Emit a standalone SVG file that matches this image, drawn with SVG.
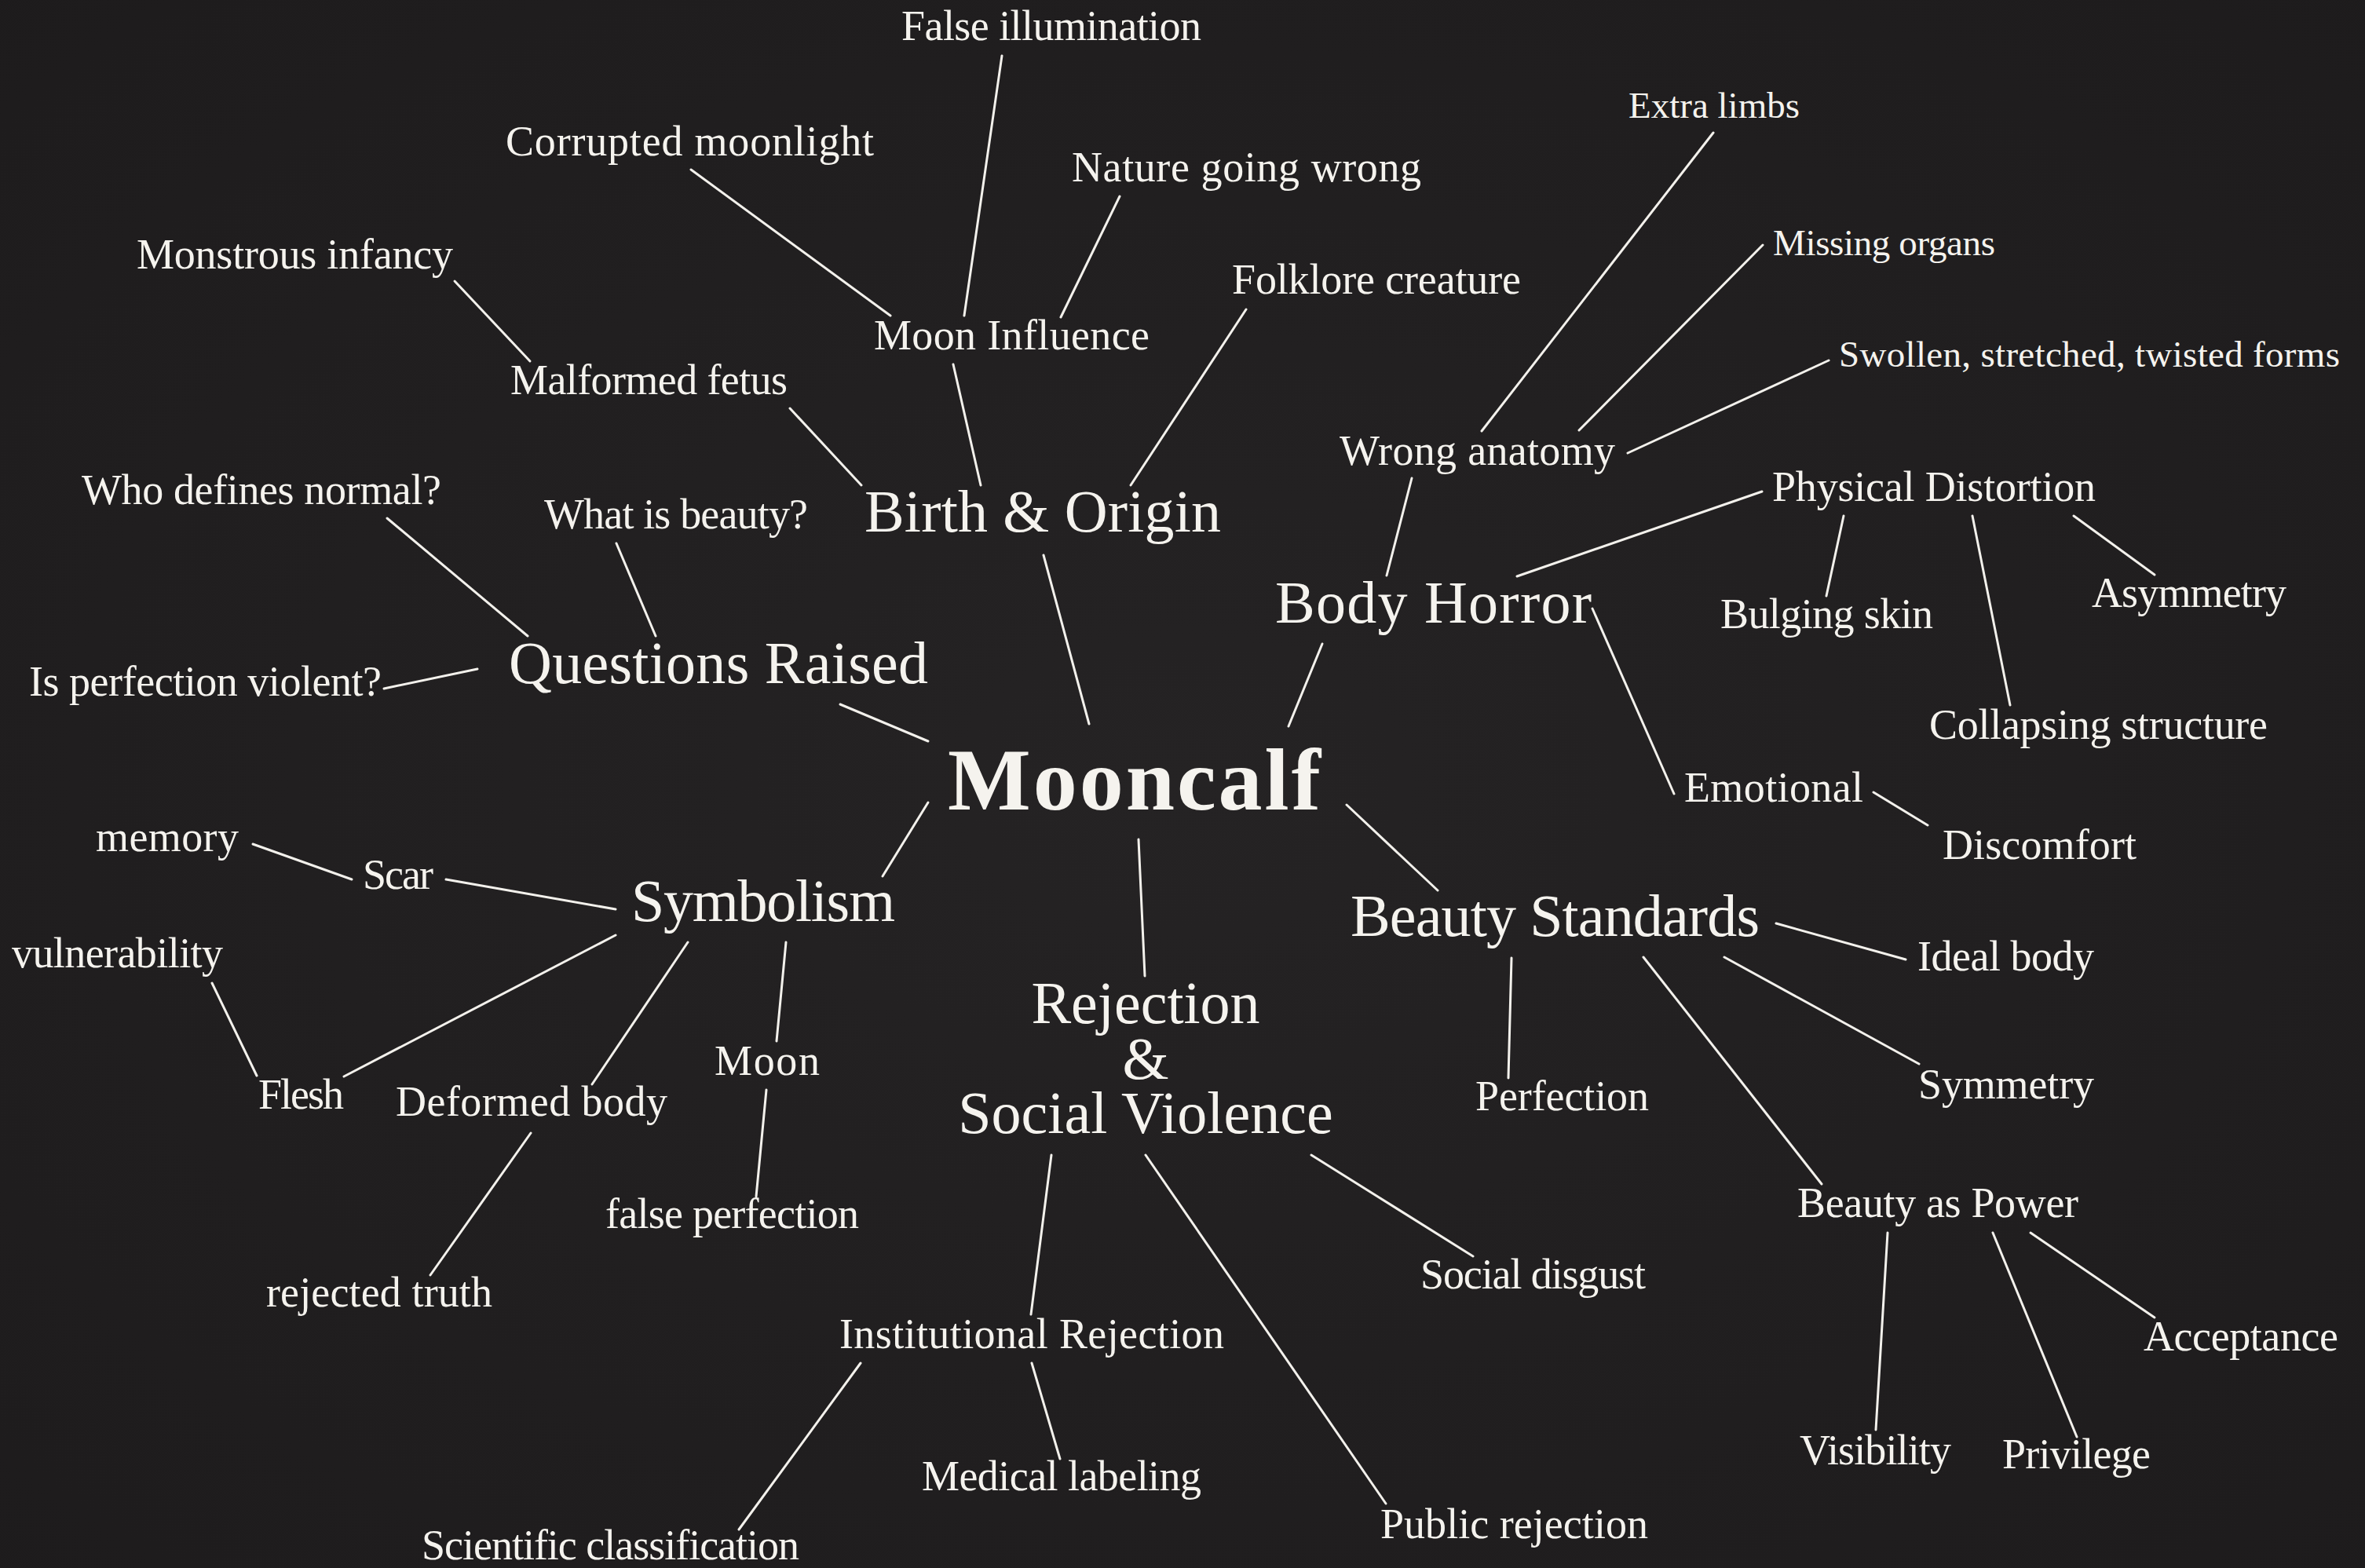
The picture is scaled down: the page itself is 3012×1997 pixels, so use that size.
<svg xmlns="http://www.w3.org/2000/svg" width="3012" height="1997" viewBox="0 0 3012 1997">
<defs>
<style>
text{font-family:"Liberation Serif","Times New Roman",serif;fill:#f5f3ee;}
.t{font-size:112px;font-weight:bold;}
.m{font-size:76px;}
.s{font-size:54px;}
.x{font-size:47px;}
#connectors line{stroke:#f3f1ec;stroke-width:3;stroke-linecap:round;}
</style>
<radialGradient id="bg" cx="50%" cy="50%" r="75%">
<stop offset="0" stop-color="#252324"/>
<stop offset="1" stop-color="#1d1b1c"/>
</radialGradient>
</defs>
<rect width="3012" height="1997" fill="url(#bg)"/>
<g id="connectors">
<line x1="1276" y1="71" x2="1228" y2="402"/>
<line x1="880" y1="216" x2="1134" y2="402"/>
<line x1="1426" y1="250" x2="1351" y2="404"/>
<line x1="1214" y1="464" x2="1249" y2="618"/>
<line x1="579" y1="358" x2="675" y2="460"/>
<line x1="1006" y1="520" x2="1097" y2="618"/>
<line x1="1587" y1="394" x2="1440" y2="618"/>
<line x1="1329" y1="707" x2="1387" y2="922"/>
<line x1="2182" y1="169" x2="1887" y2="549"/>
<line x1="2245" y1="312" x2="2011" y2="548"/>
<line x1="2329" y1="459" x2="2073" y2="577"/>
<line x1="1798" y1="609" x2="1766" y2="733"/>
<line x1="2244" y1="626" x2="1932" y2="734"/>
<line x1="2348" y1="657" x2="2326" y2="759"/>
<line x1="2512" y1="657" x2="2560" y2="898"/>
<line x1="2641" y1="657" x2="2744" y2="732"/>
<line x1="2028" y1="775" x2="2132" y2="1011"/>
<line x1="2386" y1="1009" x2="2455" y2="1051"/>
<line x1="1684" y1="820" x2="1641" y2="925"/>
<line x1="493" y1="660" x2="672" y2="810"/>
<line x1="785" y1="692" x2="835" y2="810"/>
<line x1="489" y1="877" x2="608" y2="852"/>
<line x1="1070" y1="897" x2="1182" y2="944"/>
<line x1="1182" y1="1022" x2="1124" y2="1116"/>
<line x1="322" y1="1075" x2="448" y2="1120"/>
<line x1="568" y1="1120" x2="784" y2="1158"/>
<line x1="784" y1="1191" x2="438" y2="1371"/>
<line x1="270" y1="1252" x2="327" y2="1370"/>
<line x1="876" y1="1200" x2="754" y2="1381"/>
<line x1="1001" y1="1200" x2="989" y2="1326"/>
<line x1="976" y1="1388" x2="963" y2="1524"/>
<line x1="676" y1="1443" x2="548" y2="1624"/>
<line x1="1450" y1="1069" x2="1458" y2="1243"/>
<line x1="1339" y1="1471" x2="1313" y2="1674"/>
<line x1="1459" y1="1471" x2="1765" y2="1915"/>
<line x1="1670" y1="1471" x2="1876" y2="1600"/>
<line x1="1314" y1="1736" x2="1350" y2="1858"/>
<line x1="1096" y1="1736" x2="941" y2="1948"/>
<line x1="1715" y1="1025" x2="1831" y2="1134"/>
<line x1="2262" y1="1176" x2="2427" y2="1222"/>
<line x1="1925" y1="1220" x2="1921" y2="1373"/>
<line x1="2196" y1="1219" x2="2444" y2="1355"/>
<line x1="2093" y1="1219" x2="2320" y2="1508"/>
<line x1="2404" y1="1570" x2="2389" y2="1821"/>
<line x1="2538" y1="1570" x2="2645" y2="1830"/>
<line x1="2586" y1="1570" x2="2744" y2="1678"/>
</g>
<g id="mooncalf"><text class="t" x="1207" y="1031" textLength="475">Mooncalf</text></g>
<g id="birth-origin"><text class="m" x="1101" y="677" textLength="454">Birth &amp; Origin</text></g>
<g id="body-horror"><text class="m" x="1624" y="793" textLength="403">Body Horror</text></g>
<g id="questions-raised"><text class="m" x="648" y="870" textLength="534">Questions Raised</text></g>
<g id="symbolism"><text class="m" x="804" y="1173" textLength="336">Symbolism</text></g>
<g id="beauty-standards"><text class="m" x="1720" y="1192" textLength="521">Beauty Standards</text></g>
<g id="rejection-social-violence">
<text class="m" text-anchor="middle"><tspan x="1459" y="1303">Rejection</tspan><tspan x="1459" y="1374">&amp;</tspan><tspan x="1459" y="1443">Social Violence</tspan></text>
</g>
<g id="false-illumination"><text class="s" x="1148" y="51" textLength="382">False illumination</text></g>
<g id="corrupted-moonlight"><text class="s" x="644" y="198" textLength="469">Corrupted moonlight</text></g>
<g id="nature-going-wrong"><text class="s" x="1365" y="231" textLength="445">Nature going wrong</text></g>
<g id="monstrous-infancy"><text class="s" x="174" y="342" textLength="403">Monstrous infancy</text></g>
<g id="folklore-creature"><text class="s" x="1569" y="374" textLength="368">Folklore creature</text></g>
<g id="moon-influence"><text class="s" x="1113" y="445" textLength="351">Moon Influence</text></g>
<g id="malformed-fetus"><text class="s" x="650" y="502" textLength="353">Malformed fetus</text></g>
<g id="wrong-anatomy"><text class="s" x="1706" y="592" textLength="351">Wrong anatomy</text></g>
<g id="physical-distortion"><text class="s" x="2257" y="638" textLength="412">Physical Distortion</text></g>
<g id="who-defines-normal"><text class="s" x="104" y="642" textLength="458">Who defines normal?</text></g>
<g id="what-is-beauty"><text class="s" x="693" y="673" textLength="336">What is beauty?</text></g>
<g id="asymmetry"><text class="s" x="2664" y="773" textLength="248">Asymmetry</text></g>
<g id="bulging-skin"><text class="s" x="2191" y="800" textLength="271">Bulging skin</text></g>
<g id="is-perfection-violent"><text class="s" x="37" y="886" textLength="449">Is perfection violent?</text></g>
<g id="collapsing-structure"><text class="s" x="2457" y="941" textLength="431">Collapsing structure</text></g>
<g id="emotional"><text class="s" x="2145" y="1021" textLength="228">Emotional</text></g>
<g id="discomfort"><text class="s" x="2474" y="1094" textLength="247">Discomfort</text></g>
<g id="memory"><text class="s" x="122" y="1084" textLength="182">memory</text></g>
<g id="scar"><text class="s" x="462" y="1132" textLength="90">Scar</text></g>
<g id="vulnerability"><text class="s" x="15" y="1232" textLength="269">vulnerability</text></g>
<g id="ideal-body"><text class="s" x="2442" y="1236" textLength="225">Ideal body</text></g>
<g id="moon"><text class="s" x="910" y="1369" textLength="134">Moon</text></g>
<g id="symmetry"><text class="s" x="2443" y="1399" textLength="224">Symmetry</text></g>
<g id="flesh"><text class="s" x="329" y="1412" textLength="109">Flesh</text></g>
<g id="perfection"><text class="s" x="1879" y="1414" textLength="221">Perfection</text></g>
<g id="deformed-body"><text class="s" x="504" y="1421" textLength="346">Deformed body</text></g>
<g id="beauty-as-power"><text class="s" x="2289" y="1550" textLength="358">Beauty as Power</text></g>
<g id="false-perfection"><text class="s" x="771" y="1564" textLength="323">false perfection</text></g>
<g id="social-disgust"><text class="s" x="1809" y="1641" textLength="287">Social disgust</text></g>
<g id="rejected-truth"><text class="s" x="339" y="1664" textLength="288">rejected truth</text></g>
<g id="institutional-rejection"><text class="s" x="1069" y="1717" textLength="490">Institutional Rejection</text></g>
<g id="acceptance"><text class="s" x="2730" y="1720" textLength="248">Acceptance</text></g>
<g id="visibility"><text class="s" x="2292" y="1865" textLength="193">Visibility</text></g>
<g id="privilege"><text class="s" x="2550" y="1870" textLength="189">Privilege</text></g>
<g id="medical-labeling"><text class="s" x="1174" y="1898" textLength="356">Medical labeling</text></g>
<g id="public-rejection"><text class="s" x="1758" y="1959" textLength="341">Public rejection</text></g>
<g id="scientific-classification"><text class="s" x="537" y="1986" textLength="481">Scientific classification</text></g>
<g id="extra-limbs"><text class="x" x="2074" y="150" textLength="218">Extra limbs</text></g>
<g id="missing-organs"><text class="x" x="2258" y="325" textLength="283">Missing organs</text></g>
<g id="swollen-forms"><text class="x" x="2342" y="467" textLength="638">Swollen, stretched, twisted forms</text></g>
</svg>
